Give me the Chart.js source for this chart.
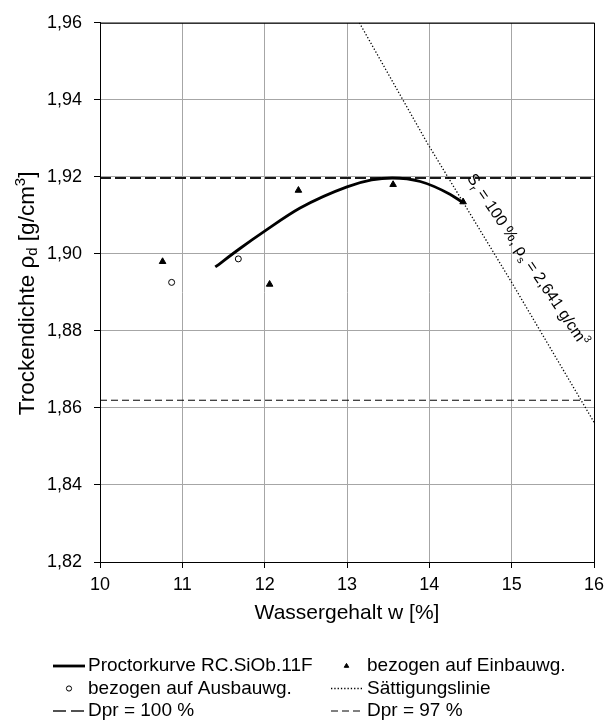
<!DOCTYPE html>
<html>
<head>
<meta charset="utf-8">
<script src="https://cdn.jsdelivr.net/npm/chart.js@4/dist/chart.umd.min.js"></script>
<style>
  html, body { margin: 0; background: #fff; }
</style>
</head>
<body>
<canvas id="chart" width="615" height="722"></canvas>
<script>
const FONT = '"Liberation Sans", Arial, Helvetica, sans-serif';

// Proctorkurve RC.SiOb.11F
const proctorW   = [11.40, 11.70, 12.00, 12.43, 13.00, 13.30, 13.55, 13.89, 14.25, 14.41];
const proctorRho = [1.8966, 1.9014, 1.9059, 1.9119, 1.9174, 1.9192, 1.9197, 1.9188, 1.9155, 1.9133];

// Versuchspunkte, bezogen auf Einbauwassergehalt
const einbauW   = [10.76, 12.06, 12.41, 13.56, 14.41];
const einbauRho = [1.8980, 1.8921, 1.9165, 1.9180, 1.9135];

// Versuchspunkte, bezogen auf Ausbauwassergehalt
const ausbauW   = [10.87, 11.68];
const ausbauRho = [1.8926, 1.8987];

// Sättigungslinie (Sr = 100 %, rho_s = 2,641 g/cm3)
const saettW   = [13.15, 13.98, 15.00, 16.00];
const saettRho = [1.9600, 1.9286, 1.8926, 1.8563];

// Proctordichte und 97 % davon
const dpr100 = 1.9197;
const dpr97  = 1.8620;

const xRange = [10, 16];
const yRange = [1.82, 1.96];

const pts = (xs, ys) => xs.map((x, i) => ({ x: x, y: ys[i] }));
const hline = v => xRange.map(x => ({ x: x, y: v }));
const komma = v => v.toFixed(2).replace('.', ',');

// rich text: parts = [{t, size, dy}]
function drawRich(ctx, parts, x, y, align) {
  let total = 0;
  parts.forEach(p => {
    ctx.font = p.size + 'px ' + FONT;
    p.w = ctx.measureText(p.t).width;
    total += p.w;
  });
  let cx = align === 'center' ? x - total / 2 : x;
  parts.forEach(p => {
    ctx.font = p.size + 'px ' + FONT;
    ctx.fillText(p.t, cx, y + (p.dy || 0));
    cx += p.w;
  });
}

// frame, y title, annotation and legend
const extras = {
  id: 'extras',
  afterDatasetsDraw(chart) {
    const ctx = chart.ctx;
    const xs = chart.scales.x, ys = chart.scales.y;
    // label along the saturation line
    ctx.save();
    ctx.fillStyle = '#000';
    ctx.textBaseline = 'alphabetic';
    ctx.translate(xs.getPixelForValue(14.45), ys.getPixelForValue(1.9197));
    ctx.rotate(56 * Math.PI / 180);
    drawRich(ctx, [
      { t: 'S', size: 16 }, { t: 'r', size: 10.5, dy: 4 },
      { t: ' = 100 %, ', size: 16 },
      { t: 'ρ', size: 16 }, { t: 's', size: 10.5, dy: 4 },
      { t: ' = 2,641 g/cm', size: 16 }, { t: '3', size: 10.5, dy: -7 }
    ], 0, 0, 'left');
    ctx.restore();
  },
  afterDraw(chart) {
    const ctx = chart.ctx;
    const a = chart.chartArea;
    ctx.save();
    ctx.strokeStyle = '#000';
    ctx.lineWidth = 1;
    ctx.strokeRect(a.left + 0.5, a.top + 0.5, a.right - a.left, a.bottom - a.top);

    // y axis title
    ctx.fillStyle = '#000';
    ctx.textBaseline = 'middle';
    ctx.save();
    ctx.translate(chart.scales.y.left + 28, (a.top + a.bottom) / 2 + 1);
    ctx.rotate(-Math.PI / 2);
    drawRich(ctx, [
      { t: 'Trockendichte ρ', size: 22.5 }, { t: 'd', size: 15, dy: 5 },
      { t: ' [g/cm', size: 22.5 }, { t: '3', size: 15, dy: -7 }, { t: ']', size: 22.5 }
    ], 0, 0, 'center');
    ctx.restore();

    // legend, two columns, row-major
    const rowY = a.bottom + 104, rowH = 22.5;
    const colX = [53, 331], sampleW = [32, 31], textX = [88, 367];
    ctx.textBaseline = 'middle';
    ctx.font = '19px ' + FONT;
    chart.data.datasets.forEach((ds, i) => {
      const col = i % 2, row = Math.floor(i / 2);
      const y = rowY + row * rowH;
      const x0 = colX[col], w = sampleW[col];
      ctx.save();
      if (ds.showLine) {
        ctx.strokeStyle = ds.borderColor;
        ctx.lineWidth = ds.legendWidth || ds.borderWidth;
        ctx.setLineDash(ds.legendDash || ds.borderDash || []);
        ctx.beginPath();
        ctx.moveTo(x0, y);
        ctx.lineTo(x0 + w, y);
        ctx.stroke();
      } else {
        ctx.fillStyle = ds.pointBackgroundColor;
        ctx.strokeStyle = ds.pointBorderColor;
        Chart.helpers.drawPoint(ctx, {
          pointStyle: ds.pointStyle, radius: 2.6, borderWidth: 1
        }, x0 + w / 2, y);
      }
      ctx.restore();
      ctx.fillStyle = '#000';
      ctx.font = '19px ' + FONT;
      ctx.fillText(ds.label, textX[col], y);
    });
    ctx.restore();
  }
};

new Chart(document.getElementById('chart'), {
  type: 'scatter',
  data: {
    datasets: [
      {
        label: 'Proctorkurve RC.SiOb.11F',
        data: pts(proctorW, proctorRho),
        showLine: true, borderColor: '#000', borderWidth: 2.8,
        cubicInterpolationMode: 'monotone', pointRadius: 0, order: 1
      },
      {
        label: 'bezogen auf Einbauwg.',
        data: pts(einbauW, einbauRho),
        pointStyle: 'triangle', pointRadius: 3.8,
        pointBackgroundColor: '#000', pointBorderColor: '#000', pointBorderWidth: 1,
        order: 0
      },
      {
        label: 'bezogen auf Ausbauwg.',
        data: pts(ausbauW, ausbauRho),
        pointStyle: 'circle', pointRadius: 3,
        pointBackgroundColor: '#fff', pointBorderColor: '#000', pointBorderWidth: 1,
        order: 0
      },
      {
        label: 'Sättigungslinie',
        data: pts(saettW, saettRho),
        showLine: true, borderColor: '#000', borderWidth: 1.3,
        borderDash: [1.3, 2], pointRadius: 0, order: 2
      },
      {
        label: 'Dpr = 100 %',
        data: hline(dpr100),
        showLine: true, borderColor: '#1a1a1a', borderWidth: 2,
        borderDash: [11, 4], legendDash: [13, 5], legendWidth: 1.5,
        pointRadius: 0, order: 3
      },
      {
        label: 'Dpr = 97 %',
        data: hline(dpr97),
        showLine: true, borderColor: '#000', borderWidth: 1,
        borderDash: [7, 4], pointRadius: 0, order: 3
      }
    ]
  },
  options: {
    responsive: false,
    animation: false,
    devicePixelRatio: 1,
    layout: { padding: { top: 18, right: 21, bottom: 96, left: 0 } },
    plugins: { legend: { display: false }, tooltip: { enabled: false } },
    scales: {
      x: {
        type: 'linear', min: xRange[0], max: xRange[1],
        afterFit: s => { s.height = 64; },
        ticks: { stepSize: 1, color: '#000', padding: 6, maxRotation: 0,
                 font: { family: FONT, size: 18 } },
        grid: { color: '#a6a6a6', tickColor: '#000', tickLength: 6 },
        border: { color: '#000', width: 1 },
        title: { display: true, text: 'Wassergehalt w [%]', color: '#000',
                 padding: { top: 0, bottom: 0 }, font: { family: FONT, size: 21 } }
      },
      y: {
        type: 'linear', min: yRange[0], max: yRange[1],
        afterFit: s => { s.width = 100; },
        ticks: { stepSize: 0.02, color: '#000', padding: 12, callback: komma,
                 font: { family: FONT, size: 18 } },
        grid: { color: '#a6a6a6', tickColor: '#000', tickLength: 6 },
        border: { color: '#000', width: 1 }
      }
    }
  },
  plugins: [extras]
});
</script>
</body>
</html>
